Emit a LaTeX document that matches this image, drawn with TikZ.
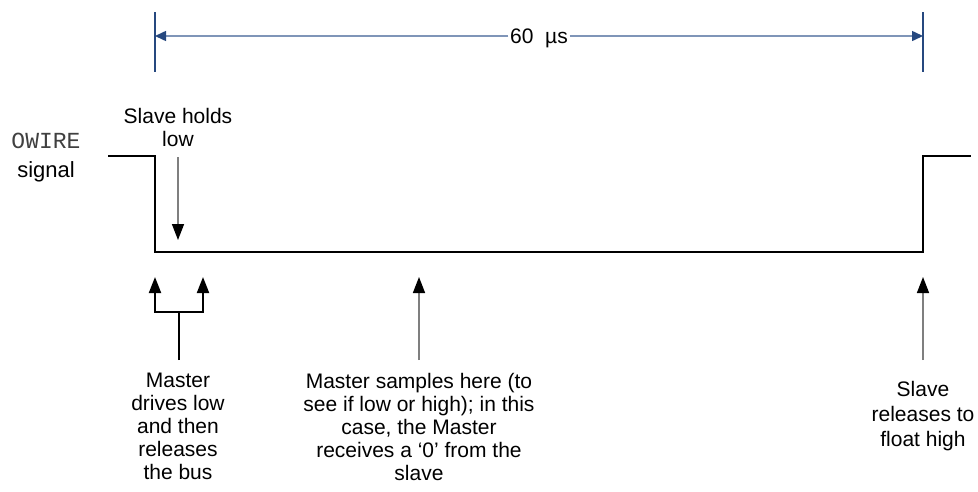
\documentclass[tikz,border=0pt]{standalone}
\usepackage{fontspec}
\setmainfont{Liberation Sans}
\newfontfamily\owirefont{Liberation Mono}
\usetikzlibrary{arrows.meta,positioning,calc}
\definecolor{TickBlue}{HTML}{26487F}
\definecolor{DimBlue}{HTML}{7F95B8}
\definecolor{PtrGray}{HTML}{7F7F7F}

\begin{document}
\begin{tikzpicture}[x=1pt,y=-1pt,
  note/.style={inner sep=0pt,align=center,font=\fontsize{21}{23}\selectfont},
  pointer/.style={PtrGray,line width=1.5pt,-{Triangle[length=16pt,width=12pt,black]}},
  fork/.style={black,line width=2pt,-{Triangle[length=16pt,width=12pt,black]}},
  dimline/.style={DimBlue,line width=1.5pt,-{Triangle[length=11pt,width=10pt,TickBlue]}}]
  \useasboundingbox (0,0) rectangle (978,491);
  % 60 us span
  \draw[TickBlue,line width=2pt] (155,12)--(155,72) (923,12)--(923,72);
  \coordinate (spanL) at (155,36);
  \coordinate (spanR) at (923,36);
  \node[inner sep=1.5pt,font=\fontsize{21}{23}\selectfont,anchor=base] (span) at (539,43) {60~~µs};
  \draw[dimline] (span.west|-spanL) -- (spanL);
  \draw[dimline] (span.east|-spanR) -- (spanR);
  % the wire
  \node[anchor=base,inner sep=0pt,font=\owirefont\fontsize{23}{23}\selectfont,text=black!75] (owire) at (46,148) {OWIRE};
  \node[anchor=base,inner sep=0pt,font=\fontsize{22}{23}\selectfont] (sig) at (46,177) {signal};
  \draw[line width=2pt] (108,156) -- (155,156) -- (155,252) -- (923,252) -- (923,156) -- (971,156);
  % slave holds
  \node[note,anchor=north] (hold) at (178,108) {Slave holds\\low};
  \coordinate (holdTip) at (178,240);
  \draw[pointer] (hold.south|-0,157) -- (holdTip);
  % master drives
  \node[note,anchor=north] (drive) at (178,373) {Master\\drives low\\and then\\releases\\the bus};
  \coordinate (forkL) at (155,277);
  \coordinate (forkR) at (203,277);
  \coordinate (forkM) at (179,312);
  \draw[line width=2pt] (179,360) -- (forkM);
  \draw[fork] (forkM) -| (forkL);
  \draw[fork] (forkM) -| (forkR);
  % master samples
  \node[note,anchor=north] (sample) at (419,373) {Master samples here (to\\see if low or high); in this\\case, the Master\\receives a ‘0’ from the\\slave};
  \coordinate (sampleTip) at (419,277);
  \draw[pointer] (419,360) -- (sampleTip);
  % slave releases
  \node[note,font=\fontsize{21}{25}\selectfont,anchor=north] (release) at (923,381) {Slave\\releases to\\float high};
  \coordinate (releaseTip) at (923,277);
  \draw[pointer] (923,360) -- (releaseTip);
\end{tikzpicture}
\end{document}
